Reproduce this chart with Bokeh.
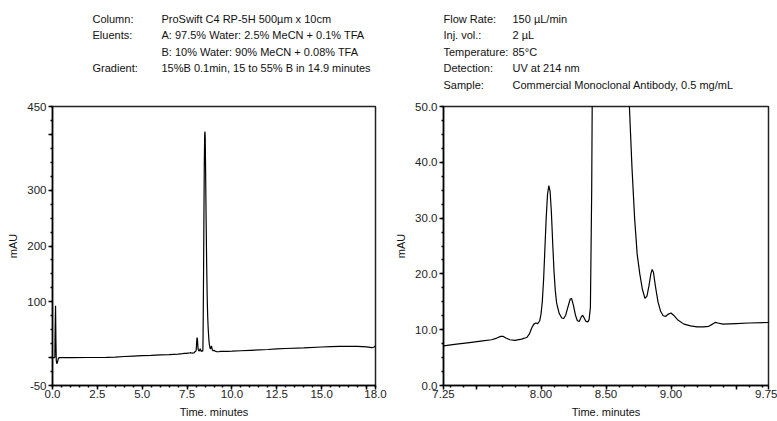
from bokeh.plotting import figure
from bokeh.layouts import row, column
from bokeh.models import FixedTicker, CustomJSTickFormatter, Range1d
from bokeh.core.properties import value
from bokeh.embed import file_html
from bokeh.resources import INLINE

FONT = "Liberation Sans"

# ---- chromatogram trace (time in minutes, absorbance in mAU) ----
time_min = [
    0.00, 0.10, 0.13, 0.15, 0.17, 0.19, 0.21, 0.24, 0.28, 0.33, 0.40,
    1.00, 2.00, 3.00, 3.50, 4.00, 4.50, 5.00, 5.50, 6.00, 6.50, 7.00,
    7.25, 7.35, 7.45, 7.55, 7.62, 7.66, 7.69, 7.71, 7.73, 7.76, 7.80, 7.85, 7.89,
    7.91, 7.93, 7.945, 7.96, 7.975, 7.99, 8.00, 8.01, 8.02, 8.03, 8.04, 8.05,
    8.06, 8.07, 8.08, 8.09, 8.10, 8.11, 8.12, 8.14, 8.16, 8.175, 8.19, 8.21,
    8.225, 8.235, 8.25, 8.265, 8.28, 8.295, 8.31, 8.32, 8.33, 8.345, 8.36, 8.37,
    8.38, 8.39, 8.40, 8.42, 8.44, 8.46, 8.48, 8.495, 8.51, 8.53, 8.56, 8.59,
    8.62, 8.65, 8.68, 8.70, 8.72, 8.74, 8.76, 8.78, 8.80, 8.815, 8.83, 8.845,
    8.855, 8.865, 8.88, 8.90, 8.92, 8.94, 8.96, 8.98, 9.00, 9.02, 9.05, 9.10,
    9.15, 9.20, 9.25, 9.29, 9.32, 9.34, 9.36, 9.40, 9.50, 9.60, 9.75,
    10.0, 10.5, 11.0, 12.0, 12.5, 13.0, 14.0, 15.0, 15.5, 16.0, 17.0, 17.5,
    17.8, 17.9, 18.0,
]
signal_mau = [
    0.0, 0.0, 0.5, 60.0, 93.0, 30.0, -5.0, -11.0, -8.0, -1.0, 0.0,
    0.0, 0.2, 0.5, 0.9, 2.0, 2.8, 3.5, 4.0, 4.8, 5.5, 6.4,
    7.1, 7.4, 7.7, 8.0, 8.2, 8.5, 8.8, 8.8, 8.5, 8.2, 8.1, 8.3, 8.6,
    9.2, 10.4, 11.0, 11.2, 11.1, 11.6, 12.8, 15.0, 19.0, 24.5, 30.0, 34.2,
    35.8, 34.8, 31.0, 25.5, 20.5, 17.0, 14.8, 12.9, 12.1, 12.0, 12.6, 14.3,
    15.5, 15.6, 14.3, 12.6, 11.6, 11.5, 12.3, 12.6, 12.2, 11.5, 11.4, 11.8,
    14.0, 35.0, 75.0, 160.0, 260.0, 350.0, 398.0, 405.0, 395.0, 340.0, 250.0, 170.0,
    110.0, 72.0, 50.0, 39.0, 30.0, 23.5, 20.0, 17.2, 15.6, 16.0, 17.8, 20.0,
    20.8, 20.3, 17.8, 15.0, 13.3, 12.5, 12.4, 12.8, 13.0, 12.6, 11.8, 11.0,
    10.7, 10.5, 10.5, 10.6, 11.0, 11.3, 11.2, 11.0, 11.1, 11.2, 11.3,
    11.5, 12.3, 13.0, 14.5, 15.5, 16.3, 17.5, 19.0, 19.6, 20.0, 20.0, 19.2,
    17.8, 18.5, 21.0,
]

# ---- axes ----
left_x_range = (0.0, 18.0)
left_y_range = (-50.0, 450.0)
left_x_ticks = [0, 2.5, 5, 7.5, 10, 12.5, 15, 17.5, 18]
left_x_labels = ["0.0", "2.5", "5.0", "7.5", "10.0", "12.5", "15.0", "", "18.0"]
left_y_ticks = [-50, 0, 100, 200, 300, 400, 450]
left_y_labels = ["-50", "", "100", "200", "300", "", "450"]

right_x_range = (7.25, 9.75)
right_y_range = (0.0, 50.0)
right_x_ticks = [7.25, 7.5, 8.0, 8.5, 9.0, 9.5, 9.75]
right_x_labels = ["7.25", "", "8.00", "8.50", "9.00", "", "9.75"]
right_y_ticks = [0, 10, 20, 30, 40, 50]
right_y_labels = ["0.0", "10.0", "20.0", "30.0", "40.0", "50.0"]

x_title = "Time. minutes"
y_title = "mAU"

# ---- header texts ----
left_keys = ["Column:", "Eluents:", "", "Gradient:"]
left_vals = ["ProSwift C4 RP-5H 500µm x 10cm",
             "A: 97.5% Water: 2.5% MeCN + 0.1% TFA",
             "B: 10% Water: 90% MeCN + 0.08% TFA",
             "15%B 0.1min, 15 to 55% B in 14.9 minutes"]
right_keys = ["Flow Rate:", "Inj. vol.:", "Temperature:", "Detection:", "Sample:"]
right_vals = ["150 µL/min", "2 µL", "85°C", "UV at 214 nm",
              "Commercial Monoclonal Antibody, 0.5 mg/mL"]

HEAD_H = 96
W1, W2 = 390, 387


def steps(a, b, s):
    n = int(round((b - a) / s))
    return [round(a + i * s, 6) for i in range(n + 1)]


def fmt(ticks, labels):
    return CustomJSTickFormatter(args=dict(t=ticks, l=labels), code="""
        for (let i = 0; i < t.length; i++) {
            if (Math.abs(t[i] - tick) < 1e-6) { return l[i]; }
        }
        return "";
    """)


def header(width, keys, vals, kx, vx):
    h = figure(width=width, height=HEAD_H, x_range=Range1d(0, width), y_range=Range1d(HEAD_H, 0),
               x_axis_type=None, y_axis_type=None, output_backend="svg", toolbar_location=None,
               min_border=0)
    h.outline_line_color = None
    h.xgrid.visible = False
    h.ygrid.visible = False
    ys = [18 + 16.5 * i for i in range(len(keys))]
    common = dict(text_font=value(FONT), text_font_size="11px", text_color="#111",
                  text_baseline="middle", text_align="left")
    h.text(x=[kx] * len(keys), y=ys, text=keys, **common)
    h.text(x=[vx] * len(vals), y=ys, text=vals, **common)
    return h


def make(xr, yr, xt, xl, xminor, yt, yl, yminor, bl, br, fw):
    p = figure(frame_width=fw, frame_height=279, x_range=Range1d(*xr), y_range=Range1d(*yr),
               output_backend="svg", toolbar_location=None,
               min_border_left=bl, min_border_right=br, min_border_top=10, min_border_bottom=36)
    p.background_fill_color = "white"
    p.border_fill_color = "white"
    p.outline_line_color = "#222"
    p.outline_line_width = 1.5
    p.xgrid.visible = False
    p.ygrid.visible = False
    p.xaxis.ticker = FixedTicker(ticks=xt, minor_ticks=xminor)
    p.yaxis.ticker = FixedTicker(ticks=yt, minor_ticks=yminor)
    p.xaxis.formatter = fmt(xt, xl)
    p.yaxis.formatter = fmt(yt, yl)
    p.xaxis.axis_label = x_title
    p.yaxis.axis_label = y_title
    for ax in (p.xaxis[0], p.yaxis[0]):
        ax.axis_line_width = 1.5
        ax.axis_line_color = "black"
        ax.major_tick_line_width = 1.5
        ax.minor_tick_line_width = 1.5
        ax.major_tick_out = 4
        ax.major_tick_in = 0
        ax.minor_tick_out = 2
        ax.minor_tick_in = 0
        ax.major_label_text_font = FONT
        ax.major_label_text_font_size = "11.5px"
        ax.major_label_text_color = "#222"
        ax.axis_label_text_font = FONT
        ax.axis_label_text_font_size = "11px"
        ax.axis_label_text_font_style = "normal"
        ax.axis_label_text_color = "#111"
        ax.axis_label_standoff = 5
    p.xaxis.major_label_standoff = 0
    p.yaxis.major_label_standoff = 2
    p.line(time_min, signal_mau, line_color="black", line_width=1.2)
    return p


h1 = header(W1, left_keys, left_vals, 92, 161)
h2 = header(W2, right_keys, right_vals, 53, 122)

p1 = make(left_x_range, left_y_range, left_x_ticks, left_x_labels, steps(0, 18, 0.5),
          left_y_ticks, left_y_labels, steps(-50, 450, 25), 52, 15, 323)
p2 = make(right_x_range, right_y_range, right_x_ticks, right_x_labels, steps(7.3, 9.7, 0.1),
          right_y_ticks, right_y_labels, steps(0, 50, 2.5), 53, 9, 325)

layout = column(row(h1, h2), row(p1, p2))
open("out.html", "w").write(file_html(layout, INLINE))
